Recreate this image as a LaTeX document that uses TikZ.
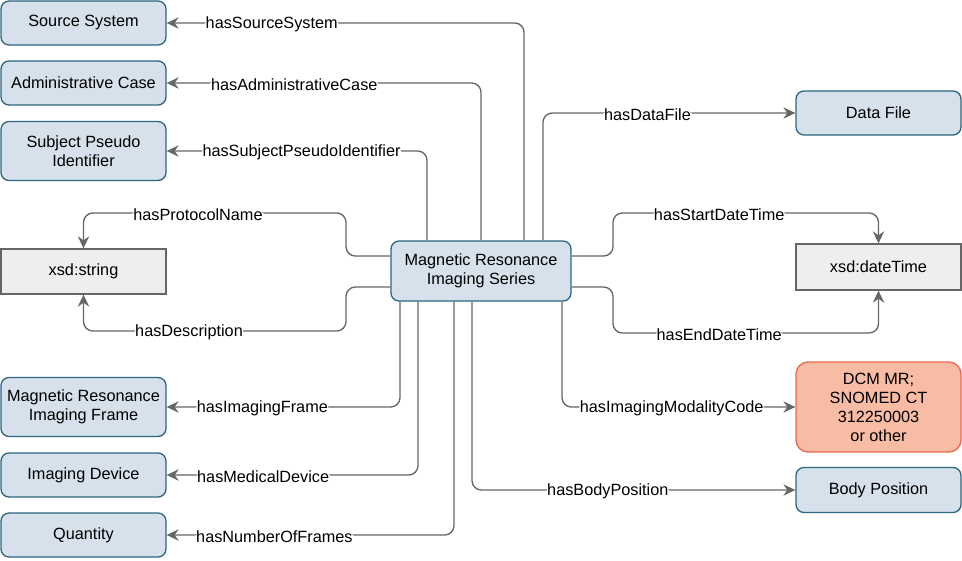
\documentclass[tikz,border=0pt]{standalone}
\usepackage{fontspec}
\setmainfont{Liberation Sans}
\usepackage{xcolor}
\usepackage{tikz}
\usetikzlibrary{arrows.meta}
\definecolor{clsfill}{HTML}{D7E1EB}
\definecolor{clsline}{HTML}{2E6580}
\definecolor{litfill}{HTML}{EEEEEE}
\definecolor{litline}{HTML}{666666}
\definecolor{codefill}{HTML}{F8BBA4}
\definecolor{codeline}{HTML}{EA6B50}
\definecolor{relline}{HTML}{666666}

\begin{document}
\begin{tikzpicture}[x=0.75pt,y=-0.75pt,
  font=\fontsize{12.2}{14.2}\selectfont,
  cls/.style={draw=clsline,fill=clsfill,line width=1pt,rounded corners=6pt,minimum width=123.75pt,minimum height=33pt,align=center,inner sep=1pt},
  lit/.style={draw=litline,fill=litfill,line width=1pt,minimum width=123.75pt,minimum height=33.75pt,align=center,inner sep=1pt},
  code/.style={draw=codeline,fill=codefill,line width=1pt,rounded corners=9pt,minimum width=123.75pt,minimum height=67.5pt,align=center,inner sep=1pt},
  rel/.style={draw=relline,line width=1pt,rounded corners=7pt,-{Stealth[length=9pt,width=8.5pt,inset=3pt]}},
  lbl/.style={fill=white,inner sep=0.5pt,text=black,yshift=-1pt}]
\useasboundingbox (0,0) rectangle (962,560);

\node[cls,minimum width=135pt,minimum height=45pt] (mri) at (481,271) {Magnetic Resonance\\Imaging Series};

\node[cls] (ss) at (83.5,23) {Source System};
\node[cls] (ac) at (83.5,83) {Administrative Case};
\node[cls,minimum height=44.25pt] (sp) at (83.5,151) {Subject Pseudo\\Identifier};
\node[lit] (xs) at (83.5,271.5) {xsd:string};
\node[cls,minimum height=44.25pt] (mf) at (83.5,407) {Magnetic Resonance\\Imaging Frame};
\node[cls] (id) at (83.5,475) {Imaging Device};
\node[cls] (qt) at (83.5,535) {Quantity};

\node[cls] (df) at (878.5,113) {Data File};
\node[lit,minimum height=34.5pt] (dt) at (878.5,267) {xsd:dateTime};
\node[code] (dcm) at (878.5,407) {DCM MR;\\SNOMED CT\\312250003\\or other};
\node[cls,minimum height=33.75pt] (bp) at (878.5,490) {Body Position};

\draw[rel] (524,0 |- mri.north) |- node[lbl,pos=0.853] (lss) {hasSourceSystem} (ss.east);
\draw[rel] (481,0 |- mri.north) |- node[lbl,pos=0.797] (lac) {hasAdministrativeCase} (ac.east);
\draw[rel] (427,0 |- mri.north) |- node[lbl,pos=0.741] (lsp) {hasSubjectPseudoIdentifier} (sp.east);
\draw[rel] (543,0 |- mri.north) |- node[lbl,pos=0.707] (ldf) {hasDataFile} (df.west);

\draw[rel] (mri.west |- 0,256) -| (346,213) -| node[lbl,pos=0.282] (lpn) {hasProtocolName} (xs.north);
\draw[rel] (mri.west |- 0,287) -| (346,331) -| node[lbl,pos=0.299] (lds) {hasDescription} (xs.south);
\draw[rel] (mri.east |- 0,256) -| (613,213) -| node[lbl,pos=0.2] (lst) {hasStartDateTime} (dt.north);
\draw[rel] (mri.east |- 0,287) -| (613,333) -| node[lbl,pos=0.2] (let) {hasEndDateTime} (dt.south);

\draw[rel] (400,0 |- mri.south) |- node[lbl,pos=0.795] (lmf) {hasImagingFrame} (mf.east);
\draw[rel] (418,0 |- mri.south) |- node[lbl,pos=0.808] (lid) {hasMedicalDevice} (id.east);
\draw[rel] (454,0 |- mri.south) |- node[lbl,pos=0.8125] (lqt) {hasNumberOfFrames} (qt.east);
\draw[rel] (562,0 |- mri.south) |- node[lbl,pos=0.735] (lmc) {hasImagingModalityCode} (dcm.west);
\draw[rel] (472,0 |- mri.south) |- node[lbl,pos=0.71] (lbp) {hasBodyPosition} (bp.west);
\end{tikzpicture}
\end{document}
